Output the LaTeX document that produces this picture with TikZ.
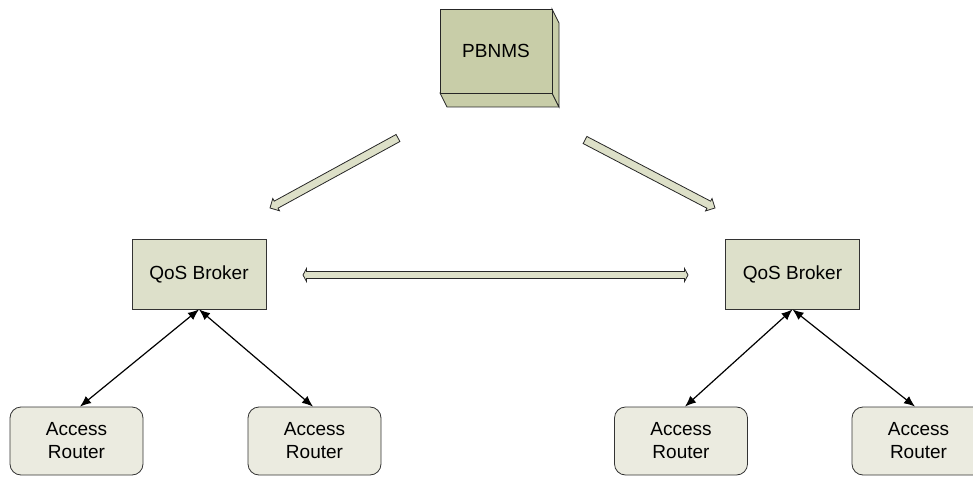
\documentclass[tikz,border=0pt]{standalone}
\usepackage{fontspec}
\setmainfont{Liberation Sans}
\usetikzlibrary{arrows.meta}
\definecolor{pbfill}{RGB}{200,205,168}
\definecolor{qfill}{RGB}{221,224,202}
\definecolor{rfill}{RGB}{235,235,224}
\definecolor{afill}{RGB}{221,224,200}
\tikzset{
  txt/.style={font=\fontsize{19}{23}\selectfont, align=center, text=black},
  broker/.style={txt, draw=black!80, line width=0.8pt, fill=qfill, minimum width=134pt, minimum height=70pt, inner sep=0pt},
  router/.style={txt, draw=black!80, line width=0.8pt, fill=rfill, rounded corners=11pt, minimum width=133pt, minimum height=68pt, inner sep=0pt},
  pbface/.style={draw=black!85, line width=0.8pt, fill=pbfill},
  blockarr/.style={draw=black!85, line width=0.8pt, fill=afill},
  link/.style={line width=1.2pt, {Latex[length=11pt,width=9pt]}-{Latex[length=11pt,width=9pt]}}
}
\newcommand\myblockarrow[4]{%
  \begin{scope}[shift={(#1,#2)}, rotate=#3]
    \draw[blockarr] (0,-4) -- ({#4-7},-4) -- ({#4-7},-7) -- (#4,0) -- ({#4-7},7) -- ({#4-7},4) -- (0,4) -- cycle;
  \end{scope}}
\begin{document}
\begin{tikzpicture}[x=1pt,y=1pt]
\useasboundingbox (0,0) rectangle (973,477);
\clip (0,0) rectangle (973,477);
% PBNMS 3D box
\draw[pbface] (440,384) -- (552,384) -- (559,370) -- (447,370) -- cycle;
\draw[pbface] (552,468) -- (559,454) -- (559,370) -- (552,384) -- cycle;
\node[pbface, txt, minimum width=112pt, minimum height=84pt, inner sep=0pt] (pb) at (496,426) {PBNMS};
% brokers
\node[broker] (bl) at (199,203) {QoS Broker};
\node[broker] (br) at (792.5,203) {QoS Broker};
% routers
\node[router] (r1) at (76.5,36) {Access\\Router};
\node[router] (r2) at (314.5,36) {Access\\Router};
\node[router] (r3) at (681,36) {Access\\Router};
\node[router] (r4) at (918.5,36) {Access\\Router};
% links
\draw[link] (bl.south) -- ([xshift=3.5pt]r1.north);
\draw[link] (bl.south) -- ([xshift=-1.5pt]r2.north);
\draw[link] (br.south) -- ([xshift=4pt]r3.north);
\draw[link] (br.south) -- ([xshift=-3.5pt]r4.north);
% block arrows
\myblockarrow{398}{339}{208.67}{145.9}
\myblockarrow{585}{337}{-27.61}{146.7}
\coordinate (hl) at (303,202);
\coordinate (hr) at (688,202);
\draw[blockarr] (hl) -- (306.5,208.5) -- (306.5,205.5) -- (684.5,205.5) -- (684.5,208.5) -- (hr) -- (684.5,195.5) -- (684.5,198.5) -- (306.5,198.5) -- (306.5,195.5) -- cycle;
\end{tikzpicture}
\end{document}
